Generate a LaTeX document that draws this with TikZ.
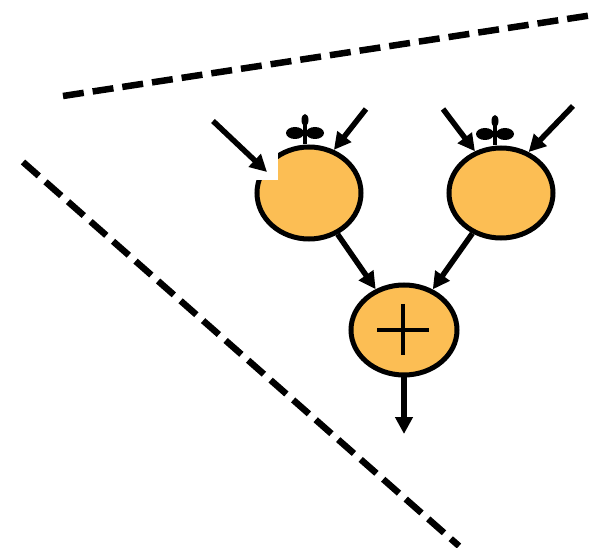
\documentclass[tikz,border=0pt]{standalone}
\usetikzlibrary{shapes.geometric,arrows.meta}
\definecolor{fruit}{RGB}{252,190,84}
\tikzset{
  opnode/.style={ellipse, draw=black, fill=fruit, line width=5pt, inner sep=0pt},
  flow/.style={line width=5.5pt, -{Triangle[length=17pt,width=17pt]}},
  border/.style={line width=6.5pt, dash pattern=on 21pt off 9pt},
  petal/.style={fill=black}
}
\begin{document}
\begin{tikzpicture}[x=1pt,y=-1pt]
\useasboundingbox (0,0) rectangle (595,548);
\fill[white] (0,0) rectangle (595,548);
% dashed borders
\coordinate (t1) at (63,96);
\coordinate (t2) at (593,15);
\coordinate (l1) at (23,162);
\coordinate (l2) at (459,546);
\draw[border] (t1) -- (t2);
\draw[border] (l1) -- (l2);
% nodes
\node[opnode, minimum width=104pt, minimum height=92pt] (L) at (309,193) {};
\node[opnode, minimum width=104pt, minimum height=90pt] (R) at (501,193) {};
\node[opnode, minimum width=106pt, minimum height=90pt] (P) at (404,330) {};
% notch in left node
\fill[white] (250,150) rectangle (278,180);
% plus sign
\draw[line width=4.5pt] (377,330) -- (429,330);
\draw[line width=4.5pt] (403,304) -- (403,355);
% asterisks
\coordinate (s1) at (305,116);
\coordinate (s2) at (495,117);
\draw[line width=4pt] (s1) -- (s1 |- L.north);
\fill[petal] (295,133) ellipse (9pt and 6pt);
\fill[petal] (315,133) ellipse (9pt and 6pt);
\fill[petal] (305,120) ellipse (3.5pt and 6pt);
\draw[line width=4pt] (s2) -- (s2 |- R.north);
\fill[petal] (485,134) ellipse (9pt and 6pt);
\fill[petal] (505,134) ellipse (9pt and 6pt);
\fill[petal] (495,121) ellipse (3.5pt and 6pt);
% inputs
\coordinate (a1) at (213,121);
\coordinate (notch) at (267,172);
\coordinate (a2) at (366,109);
\coordinate (a3) at (443,109);
\coordinate (a4) at (573,106);
\coordinate (out) at (404,434);
\draw[flow] (a1) -- (notch);
\draw[flow] (a2) -- (L.60);
\draw[flow] (a3) -- (R.122);
\draw[flow] (a4) -- (R.56);
% connections
\draw[flow] (L) -- (P);
\draw[flow] (R) -- (P);
\draw[flow] (P) -- (out);
\end{tikzpicture}
\end{document}
